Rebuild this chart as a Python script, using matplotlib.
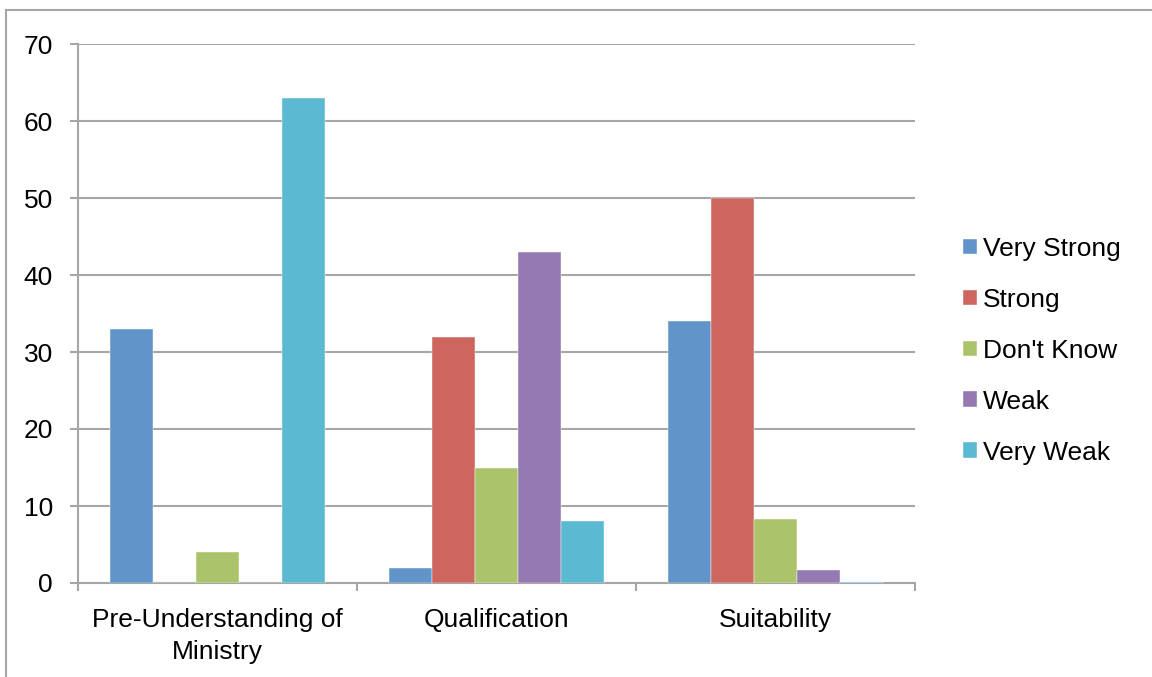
import numpy as np
import matplotlib.pyplot as plt
from matplotlib.lines import Line2D

categories = ['Pre-Understanding of\nMinistry', 'Qualification', 'Suitability']
series = ['Very Strong', 'Strong', "Don't Know", 'Weak', 'Very Weak']
very_strong = [33, 2, 34]
strong = [0, 32, 50]
dont_know = [4, 15, 8.3]
weak = [0, 43, 1.7]
very_weak = [63, 8, 0.15]
colors = ['#6195c9', '#cd665f', '#abc46c', '#9479b2', '#5bb9d2']

plt.rcParams['font.family'] = ['Liberation Sans', 'DejaVu Sans']
fs = 19

fig = plt.figure(figsize=(11.52, 6.77), dpi=100)
ax = fig.add_axes([78 / 1152, 94 / 677, (915 - 78) / 1152, (583 - 44) / 677])

x = np.arange(len(categories))
width = 0.154
values = [very_strong, strong, dont_know, weak, very_weak]
for i, (name, vals) in enumerate(zip(series, values)):
    ax.bar(x + (i - 2) * width, vals, width, color=colors[i], label=name,
           edgecolor='white', linewidth=0.3, zorder=3)

ax.set_xlim(-0.5, 2.5)
ax.set_ylim(0, 70)
ax.set_yticks(range(0, 71, 10))
ax.yaxis.grid(True, color='#a6a6a6', linewidth=1.5, zorder=0)
ax.tick_params(axis='y', length=6, width=1.5, color='#a6a6a6', pad=12, labelsize=fs)
ax.set_xticks(x)
ax.set_xticklabels(categories, linespacing=1.4)
ax.set_xticks([-0.5, 0.5, 1.5, 2.5], minor=True)
ax.tick_params(axis='x', which='major', length=0, pad=18, labelsize=fs)
ax.tick_params(axis='x', which='minor', length=6, width=1.5, color='#a6a6a6')
for s in ['top', 'right']:
    ax.spines[s].set_visible(False)
for s in ['left', 'bottom']:
    ax.spines[s].set_color('#a6a6a6')
    ax.spines[s].set_linewidth(1.5)

ax.legend(loc='center left', bbox_to_anchor=(1.045, 0.431), frameon=False,
          fontsize=fs, labelspacing=1.02, handlelength=0.53, handleheight=0.53,
          handletextpad=0.23, borderaxespad=0)

# outer chart frame
fig.add_artist(Line2D([6 / 1152, 6 / 1152], [0, 1 - 10 / 677], color='#a6a6a6',
                      linewidth=1.5, transform=fig.transFigure))
fig.add_artist(Line2D([6 / 1152, 1], [1 - 10 / 677, 1 - 10 / 677], color='#a6a6a6',
                      linewidth=1.5, transform=fig.transFigure))

fig.savefig('out.png', dpi=100)
